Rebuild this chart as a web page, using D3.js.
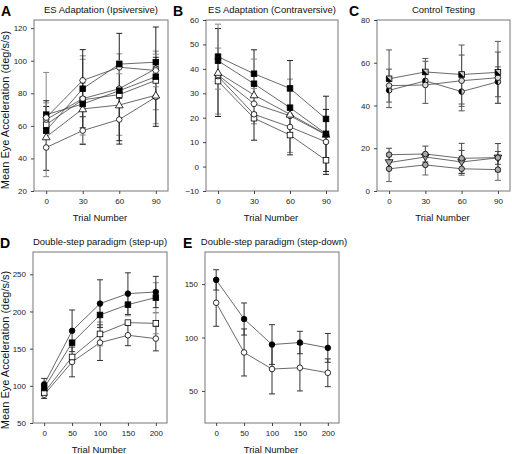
<!DOCTYPE html>
<html><head><meta charset="utf-8">
<script src="https://cdn.jsdelivr.net/npm/d3@7"></script>
<style>body{margin:0;background:#fff} svg{font-family:Arial,"Liberation Sans",sans-serif}</style>
</head><body><svg id="c" width="512" height="454"></svg>
<script>
// ---------- data ----------
const trialsES = [0, 30, 60, 90];
const trialsDS = [0, 50, 100, 150, 200];

const ticksA = [20, 40, 60, 80, 100, 120];
const ticksB = [-10, 0, 10, 20, 30, 40, 50, 60];
const ticksC = [0, 20, 40, 60, 80];
const ticksD = [50, 100, 150, 200, 250];
const ticksE = [50, 100, 150];

// Panel A – ES Adaptation (Ipsiversive)
const aFilledSq1  = [57.1, 82.8, 97.9, 99.1];
const aHex        = [65.1, 87.9, 96.0, 94.0];
const aFilledSq2  = [66.9, 73.4, 81.6, 90.2];
const aCircle2    = [63.9, 76.7, 82.8, 95.1];
const aOpenSq     = [60.8, 76.0, 79.2, 87.9];
const aTriangle   = [53.2, 70.4, 72.8, 78.8];
const aOpenCircle = [46.7, 57.1, 63.9, 77.7];
const aFilledSq1Err  = [null, 24, null, 3];
const aHexErr        = [9, 13, 4, 10];
const aFilledSq2Err  = [8.5, null, null, 30.5];
const aCircle2Err    = [8, null, 34, null];
const aOpenSqErr     = [32, 27, 25, 18];
const aTriangleErr   = [null, 16, null, 17.5];
const aOpenCircleErr = [14, 8.5, 13, null];

// Panel B – ES Adaptation (Contraversive)
const bFilled1  = [45.0, 38.0, 32.0, 19.5];
const bFilled2  = [43.3, 33.9, 24.1, 13.4];
const bTriangle = [38.5, 29.3, 21.4, 13.2];
const bHex      = [37.5, 25.7, 20.8, 13.0];
const bCircle   = [37.0, 21.4, 16.2, 10.1];
const bSquare   = [35.0, 19.8, 12.9, 2.6];
const bFilled1Err  = [13.3, 6, null, null];
const bFilled2Err  = [null, null, 19.3, 15.4];
const bTriangleErr = [18, 18.5, null, null];
const bHexErr      = [null, null, 15, null];
const bCircleErr   = [null, null, null, 13.3];
const bSquareErr   = [13.5, 2.3, null, null];

// Panel C – Control Testing
const cSquare  = [52.5, 55.7, 54.5, 55.5];
const cOpen    = [49.3, 49.6, 51.6, 53.0];
const cHalf    = [47.1, 51.5, 46.5, 51.1];
const cGray1   = [17.0, 17.3, 15.3, 15.6];
const cGrayTri = [13.3, 15.9, 13.6, 15.5];
const cGray2   = [10.4, 12.2, 10.4, 10.0];
const cSquareErr  = [13.5, 5, 13.8, 14.5];
const cOpenErr    = [7.7, null, 12, 12];
const cHalfErr    = [null, 10.5, 9, 7];
const cGray1Err   = [3, 3.7, 7, 6.6];
const cGrayTriErr = [null, null, 5.4, 3];
const cGray2Err   = [6, 4.7, 3, 5];

// Panel D – Double-step paradigm (step-up)
const dFilledCircle = [102, 174, 210.6, 224, 226.2];
const dFilledSq     = [97, 158, 195.3, 209.2, 218.7];
const dOpenSq       = [91, 138.8, 169.8, 185, 184];
const dOpenCircle   = [88, 132.1, 158.1, 168, 163.5];
const dFilledCircleErr = [8, 28, 32, 28, 21];
const dFilledSqErr     = [null, null, 17, 15, 20];
const dOpenSqErr       = [null, null, 16, null, 14];
const dOpenCircleErr   = [5, 20, 24, 14, 16.5];

// Panel E – Double-step paradigm (step-down)
const eFilled = [153.9, 117.3, 93.4, 95.3, 90.3];
const eOpen   = [132.5, 86.0, 70.5, 71.7, 67.0];
const eFilledErr = [9.5, 15, 18.6, 10.5, 13.5];
const eOpenErr   = [22, 22, 23.3, 21.7, 13];

// ---------- layout / styles ----------
const panels = [
  {letter:"A", lx:1, title:"ES Adaptation (Ipsiversive)", x0:34, x1:168, y0:20, y1:191,
   xDom:[-10,100], yDom:[20,125], xTicks:trialsES, yTicks:ticksA, ylabel:true, labelCY:110,
   series:[
     {v:aOpenCircle, e:aOpenCircleErr, m:"circle", f:"#fff", ec:"#222"},
     {v:aTriangle, e:aTriangleErr, m:"triangle", f:"#fff", ec:"#888"},
     {v:aOpenSq, e:aOpenSqErr, m:"square", f:"#fff", ec:"#888"},
     {v:aCircle2, e:aCircle2Err, m:"circle", f:"#fff", ec:"#222"},
     {v:aFilledSq2, e:aFilledSq2Err, m:"square", f:"#000", ec:"#222"},
     {v:aHex, e:aHexErr, m:"hexagon", f:"#fff", ec:"#888"},
     {v:aFilledSq1, e:aFilledSq1Err, m:"square", f:"#000", ec:"#222"}
   ], xs:trialsES},
  {letter:"B", lx:173, title:"ES Adaptation (Contraversive)", x0:206, x1:338, y0:20, y1:191,
   xDom:[-10,100], yDom:[-10,60], xTicks:trialsES, yTicks:ticksB,
   series:[
     {v:bSquare, e:bSquareErr, m:"square", f:"#fff", ec:"#888"},
     {v:bCircle, e:bCircleErr, m:"circle", f:"#fff", ec:"#222"},
     {v:bHex, e:bHexErr, m:"hexagon", f:"#fff", ec:"#888"},
     {v:bTriangle, e:bTriangleErr, m:"triangle", f:"#fff", ec:"#222"},
     {v:bFilled2, e:bFilled2Err, m:"square", f:"#000", ec:"#222"},
     {v:bFilled1, e:bFilled1Err, m:"square", f:"#000", ec:"#888"}
   ], xs:trialsES},
  {letter:"C", lx:349, title:"Control Testing", x0:377, x1:510, y0:20, y1:191,
   xDom:[-10,100], yDom:[0,80], xTicks:trialsES, yTicks:ticksC,
   series:[
     {v:cGray2, e:cGray2Err, m:"circle", f:"#aaa", ec:"#666"},
     {v:cGrayTri, e:cGrayTriErr, m:"triangleDown", f:"#aaa", ec:"#444"},
     {v:cGray1, e:cGray1Err, m:"circle", f:"#aaa", ec:"#444"},
     {v:cHalf, e:cHalfErr, m:"halfCircle", f:"#ccc", ec:"#555"},
     {v:cOpen, e:cOpenErr, m:"circle", f:"#ddd", ec:"#555"},
     {v:cSquare, e:cSquareErr, m:"halfSquare", f:"#ccc", ec:"#555"}
   ], xs:trialsES},
  {letter:"D", lx:0, title:"Double-step paradigm (step-up)", x0:33, x1:167, y0:252, y1:423,
   xDom:[-20,220], yDom:[50,280], xTicks:trialsDS, yTicks:ticksD, ylabel:true, labelCY:350,
   series:[
     {v:dOpenCircle, e:dOpenCircleErr, m:"circle", f:"#fff", ec:"#333"},
     {v:dOpenSq, e:dOpenSqErr, m:"square", f:"#fff", ec:"#888"},
     {v:dFilledSq, e:dFilledSqErr, m:"square", f:"#000", ec:"#888"},
     {v:dFilledCircle, e:dFilledCircleErr, m:"circle", f:"#000", ec:"#333"}
   ], xs:trialsDS},
  {letter:"E", lx:183, title:"Double-step paradigm (step-down)", x0:205, x1:339, y0:252, y1:423,
   xDom:[-20,220], yDom:[20,180], xTicks:trialsDS, yTicks:ticksE,
   series:[
     {v:eOpen, e:eOpenErr, m:"circle", f:"#fff", ec:"#333"},
     {v:eFilled, e:eFilledErr, m:"circle", f:"#000", ec:"#333"}
   ], xs:trialsDS}
];

const svg = d3.select("#c");

function drawMarker(g, type, fill, cx, cy) {
  const r = 2.8;
  const st = "#000", sw = 0.8;
  if (type === "circle") {
    g.append("circle").attr("cx", cx).attr("cy", cy).attr("r", r)
      .attr("fill", fill).attr("stroke", st).attr("stroke-width", sw);
  } else if (type === "square") {
    g.append("rect").attr("x", cx - r).attr("y", cy - r).attr("width", 2*r).attr("height", 2*r)
      .attr("fill", fill).attr("stroke", st).attr("stroke-width", sw);
  } else if (type === "triangle" || type === "triangleDown") {
    g.append("path").attr("d", d3.symbol(d3.symbolTriangle, 26)())
      .attr("transform", `translate(${cx},${cy + (type === "triangle" ? 0.6 : -0.6)}) rotate(${type === "triangle" ? 0 : 180})`)
      .attr("fill", fill).attr("stroke", st).attr("stroke-width", sw);
  } else if (type === "hexagon") {
    const pts = d3.range(6).map(i => {
      const a = Math.PI / 3 * i;
      return [cx + 3.1 * Math.cos(a), cy + 3.1 * Math.sin(a)];
    });
    g.append("path").attr("d", "M" + pts.join("L") + "Z")
      .attr("fill", fill).attr("stroke", st).attr("stroke-width", sw);
  } else if (type === "halfCircle") {
    g.append("circle").attr("cx", cx).attr("cy", cy).attr("r", r)
      .attr("fill", fill).attr("stroke", st).attr("stroke-width", sw);
    g.append("path").attr("d", `M${cx},${cy - r}A${r},${r} 0 0 0 ${cx},${cy + r}Z`).attr("fill", "#000");
  } else if (type === "halfSquare") {
    g.append("rect").attr("x", cx - r).attr("y", cy - r).attr("width", 2*r).attr("height", 2*r)
      .attr("fill", fill).attr("stroke", st).attr("stroke-width", sw);
    g.append("path").attr("d", `M${cx - r},${cy - r}L${cx - r},${cy + r}L${cx + r},${cy + r}Z`).attr("fill", "#000");
  }
}

panels.forEach(p => {
  const x = d3.scaleLinear().domain(p.xDom).range([p.x0, p.x1]);
  const y = d3.scaleLinear().domain(p.yDom).range([p.y1, p.y0]);
  const g = svg.append("g");

  // frame
  g.append("rect").attr("x", p.x0).attr("y", p.y0).attr("width", p.x1 - p.x0).attr("height", p.y1 - p.y0)
    .attr("fill", "none").attr("stroke", "#777").attr("stroke-width", 1);

  // axes
  const ya = g.append("g").attr("transform", `translate(${p.x0},0)`)
    .call(d3.axisLeft(y).tickValues(p.yTicks).tickSize(3).tickPadding(4).tickSizeOuter(0));
  const xa = g.append("g").attr("transform", `translate(0,${p.y1})`)
    .call(d3.axisBottom(x).tickValues(p.xTicks).tickSize(3).tickPadding(4).tickSizeOuter(0));
  [ya, xa].forEach(a => {
    a.select(".domain").remove();
    a.selectAll("line").attr("stroke", "#444");
    a.selectAll("text").attr("font-size", 8).attr("fill", "#222")
      .attr("font-family", "Arial, 'Liberation Sans', sans-serif");
  });

  // error bars
  p.series.forEach(s => {
    s.v.forEach((v, i) => {
      const e = s.e[i];
      if (e == null) return;
      const cx = x(p.xs[i]);
      const yt = y(v + e), yb = y(v - e);
      g.append("line").attr("x1", cx).attr("x2", cx).attr("y1", yt).attr("y2", yb)
        .attr("stroke", s.ec).attr("stroke-width", 1);
      [yt, yb].forEach(yy => g.append("line").attr("x1", cx - 3).attr("x2", cx + 3)
        .attr("y1", yy).attr("y2", yy).attr("stroke", s.ec).attr("stroke-width", 1));
    });
  });

  // lines
  const line = d3.line().x((d, i) => x(p.xs[i])).y(d => y(d));
  p.series.forEach(s => {
    g.append("path").attr("d", line(s.v)).attr("fill", "none")
      .attr("stroke", "#444").attr("stroke-width", 0.8);
  });

  // markers
  p.series.forEach(s => {
    s.v.forEach((v, i) => drawMarker(g, s.m, s.f, x(p.xs[i]), y(v)));
  });

  // titles
  svg.append("text").attr("x", p.lx).attr("y", p.y0 - 4).text(p.letter)
    .attr("font-size", 14).attr("font-weight", "bold").attr("fill", "#000");
  svg.append("text").attr("x", (p.x0 + p.x1) / 2 + (p.letter === "E" ? 2 : 0)).attr("y", p.y0 - 7)
    .attr("text-anchor", "middle").attr("font-size", 9.5).attr("fill", "#111").text(p.title);
  svg.append("text").attr("x", (p.x0 + p.x1) / 2 - 1).attr("y", p.y1 + 30)
    .attr("text-anchor", "middle").attr("font-size", 9.5).attr("fill", "#111").text("Trial Number");
  if (p.ylabel) {
    svg.append("text").attr("transform", `translate(9,${p.labelCY}) rotate(-90)`)
      .attr("text-anchor", "middle").attr("font-size", 11).attr("fill", "#111")
      .text("Mean Eye Acceleration (deg/s/s)");
  }
});
</script></body></html>
